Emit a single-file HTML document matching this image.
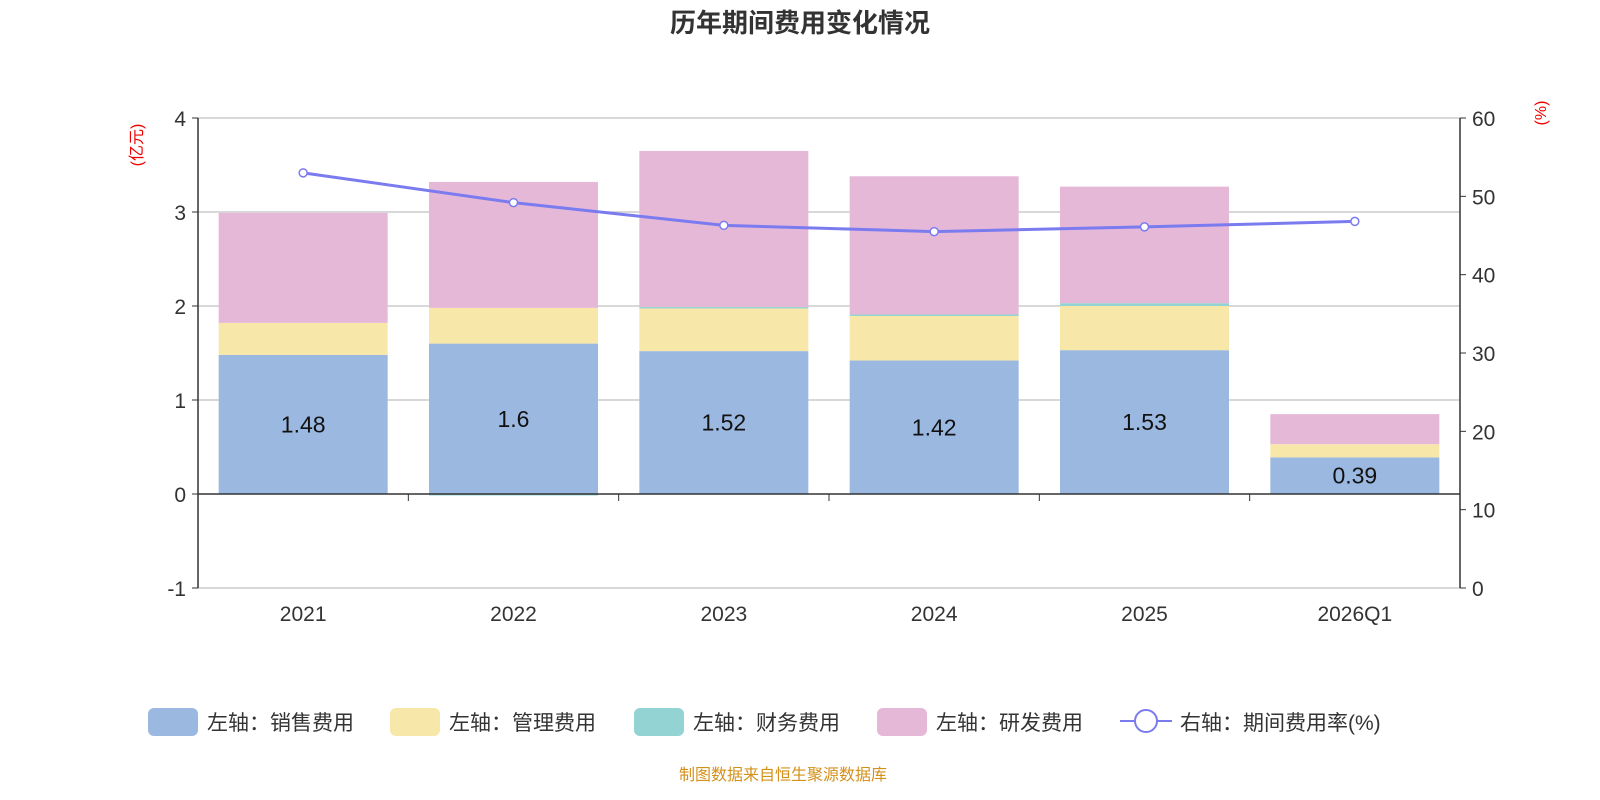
<!DOCTYPE html>
<html><head><meta charset="utf-8">
<style>
html,body{margin:0;padding:0;background:#fff;}
svg{display:block;font-family:"Liberation Sans","Noto Sans CJK SC",sans-serif;}
</style></head>
<body>
<svg id="chart" width="1600" height="800" viewBox="0 0 1600 800">
<text x="800" y="32" text-anchor="middle" font-size="26" font-weight="bold" fill="#333">历年期间费用变化情况</text>
<text transform="translate(142,145) rotate(-90)" text-anchor="middle" font-size="16" fill="#e00">(亿元)</text>
<text transform="translate(1546,113) rotate(-90)" text-anchor="middle" font-size="16" fill="#e00">(%)</text>
<g id="grid"></g>
<g id="bars"></g>
<g id="axes"></g>
<g id="line"></g>
<g id="legend" font-size="21" fill="#333">
  <rect x="148" y="708" width="50" height="28" rx="6" fill="#9bb8e1"/>
  <text x="207" y="730">左轴：销售费用</text>
  <rect x="390" y="708" width="50" height="28" rx="6" fill="#f7e7a9"/>
  <text x="449" y="730">左轴：管理费用</text>
  <rect x="634" y="708" width="50" height="28" rx="6" fill="#93d3d4"/>
  <text x="693" y="730">左轴：财务费用</text>
  <rect x="877" y="708" width="50" height="28" rx="6" fill="#e6b8d8"/>
  <text x="936" y="730">左轴：研发费用</text>
  <line x1="1120" y1="721" x2="1172" y2="721" stroke="#7b7bf0" stroke-width="2"/>
  <circle cx="1146" cy="721" r="11" fill="#fff" stroke="#7b7bf0" stroke-width="2"/>
  <text x="1180" y="730">右轴：期间费用率(%)</text>
</g>
<text x="783" y="780" text-anchor="middle" font-size="16" fill="#d4901a">制图数据来自恒生聚源数据库</text>
</svg>
<script>
const categories=["2021","2022","2023","2024","2025","2026Q1"];
const sales=[1.48,1.6,1.52,1.42,1.53,0.39];
const admin=[0.34,0.38,0.46,0.48,0.47,0.14];
const finance=[0.0,-0.01,0.01,0.01,0.03,0.0];
const rd=[1.17,1.34,1.66,1.47,1.24,0.32];
const rate=[53.0,49.2,46.3,45.5,46.1,46.8];
const leftTicks=[-1,0,1,2,3,4];
const rightTicks=[0,10,20,30,40,50,60];

const NS="http://www.w3.org/2000/svg";
const X0=198,X1=1460,band=(X1-X0)/categories.length,barW=169;
const yL=v=>494-v*94;
const yR=v=>588-v*(470/60);
const xC=i=>X0+band*(i+0.5);
function mk(p,tag,a){const e=document.createElementNS(NS,tag);for(const k in a)e.setAttribute(k,a[k]);document.getElementById(p).appendChild(e);return e;}

leftTicks.forEach(t=>{
  if(t!==0){const g=mk("grid","line",{x1:X0,x2:X1,y1:yL(t),y2:yL(t),stroke:"#ccc","stroke-width":1.5});
  
  }
  const l=mk("axes","text",{x:X0-12,y:yL(t)+8,"text-anchor":"end","font-size":21,fill:"#333"});l.textContent=t;
  
  
  mk("axes","line",{x1:X0-6,x2:X0,y1:yL(t),y2:yL(t),stroke:"#333"});
});
rightTicks.forEach(t=>{
  const l=mk("axes","text",{x:X1+12,y:yR(t)+8,"font-size":21,fill:"#333"});l.textContent=t;
  
  
  mk("axes","line",{x1:X1,x2:X1+6,y1:yR(t),y2:yR(t),stroke:"#333"});
});
const series=[[sales,"#9bb8e1","bar-sales"],[admin,"#f7e7a9","bar-admin"],[finance,"#93d3d4","bar-finance"],[rd,"#e6b8d8","bar-rd"]];
categories.forEach((c,i)=>{
  let pos=0,neg=0;
  series.forEach(([arr,col,name])=>{
    const v=arr[i];let y0,y1;
    if(v>=0){y0=pos;y1=pos+v;pos=y1;}else{y0=neg;y1=neg+v;neg=y1;}
    const top=yL(Math.max(y0,y1)),h=Math.max(Math.abs(yL(y0)-yL(y1)),v!==0?1.5:0);
    const r=mk("bars","rect",{x:xC(i)-barW/2,y:top,width:barW,height:h,fill:col});
    
    
  });
  const t=mk("bars","text",{x:xC(i),y:yL(sales[i]/2)+8,"text-anchor":"middle","font-size":23,fill:"#111"});
  t.textContent=sales[i];
  
  
  const lab=mk("axes","text",{x:xC(i),y:621,"text-anchor":"middle","font-size":21,fill:"#333"});lab.textContent=c;
  
  
  mk("axes","line",{x1:X0+band*(i+1),x2:X0+band*(i+1),y1:494,y2:501,stroke:"#333"});
});
mk("axes","line",{x1:X0,x2:X1,y1:494,y2:494,stroke:"#333","stroke-width":1.5});
mk("axes","line",{x1:X0,x2:X0,y1:118,y2:588,stroke:"#333","stroke-width":1.5});
mk("axes","line",{x1:X1,x2:X1,y1:118,y2:588,stroke:"#333","stroke-width":1.5});
const pl=mk("line","polyline",{points:rate.map((v,i)=>xC(i)+","+yR(v)).join(" "),fill:"none",stroke:"#7b7bf0","stroke-width":3});


rate.forEach((v,i)=>{
  const c=mk("line","circle",{cx:xC(i),cy:yR(v),r:4,fill:"#fff",stroke:"#7b7bf0","stroke-width":1.5});
  
  
});
</script>
</body></html>
